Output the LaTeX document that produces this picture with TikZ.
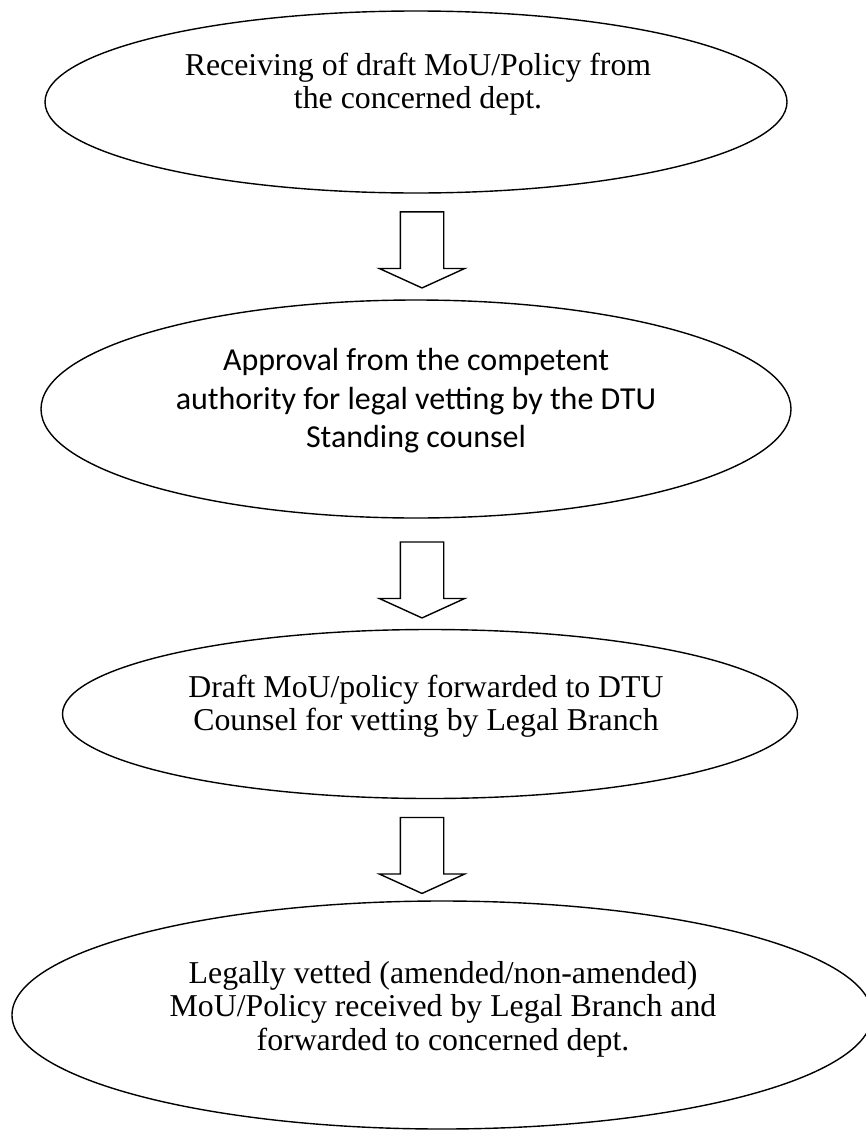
\documentclass[tikz,border=0pt]{standalone}
\usepackage{fontspec}
\setmainfont{Liberation Serif}
\newfontfamily\calibrifont{Carlito}
\usetikzlibrary{shapes.geometric,shapes.arrows}

\tikzset{
  stage/.style={ellipse, draw, line width=1.4pt, inner sep=0pt},
  stagetext/.style={align=center, inner sep=0pt, font=\fontsize{31.8}{33.5}\selectfont},
  flowarrow/.style={single arrow, draw, line width=1.4pt, rotate=-90,
    inner xsep=0pt, inner ysep=21pt, single arrow head extend=21pt,
    single arrow tip angle=131, minimum height=76pt},
}

\begin{document}
\begin{tikzpicture}[x=1pt, y=1pt]
  \useasboundingbox (0,0) rectangle (866,-1130);
  \clip (0,0) rectangle (866,-1130);

  % process stages
  \node[stage, minimum width=742pt, minimum height=182pt] (e1) at (416,-102) {};
  \node[stage, minimum width=750pt, minimum height=218pt] (e2) at (416,-409) {};
  \node[stage, minimum width=735pt, minimum height=169pt] (e3) at (430,-714) {};
  \node[stage, minimum width=860pt, minimum height=228pt] (e4) at (442,-1015) {};

  % stage captions
  \node[stagetext] (t1) at (418,-84)
    {Receiving of draft MoU/Policy from\\the concerned dept.};
  \node[stagetext, font=\calibrifont\fontsize{32}{38.5}\selectfont] (t2) at (416,-401)
    {Approval from the competent\\authority for legal vetting by the DTU\\Standing counsel};
  \node[stagetext] (t3) at (426,-706)
    {Draft MoU/policy forwarded to DTU\\Counsel for vetting by Legal Branch};
  \node[stagetext] (t4) at (443,-1009)
    {Legally vetted (amended/non-amended)\\MoU/Policy received by Legal Branch and\\forwarded to concerned dept.};

  % block arrows between the stages
  \node[flowarrow] (a1) at (422,-245) {};
  \node[flowarrow] (a2) at (422,-575) {};
  \node[flowarrow] (a3) at (422,-850.5) {};
\end{tikzpicture}
\end{document}
